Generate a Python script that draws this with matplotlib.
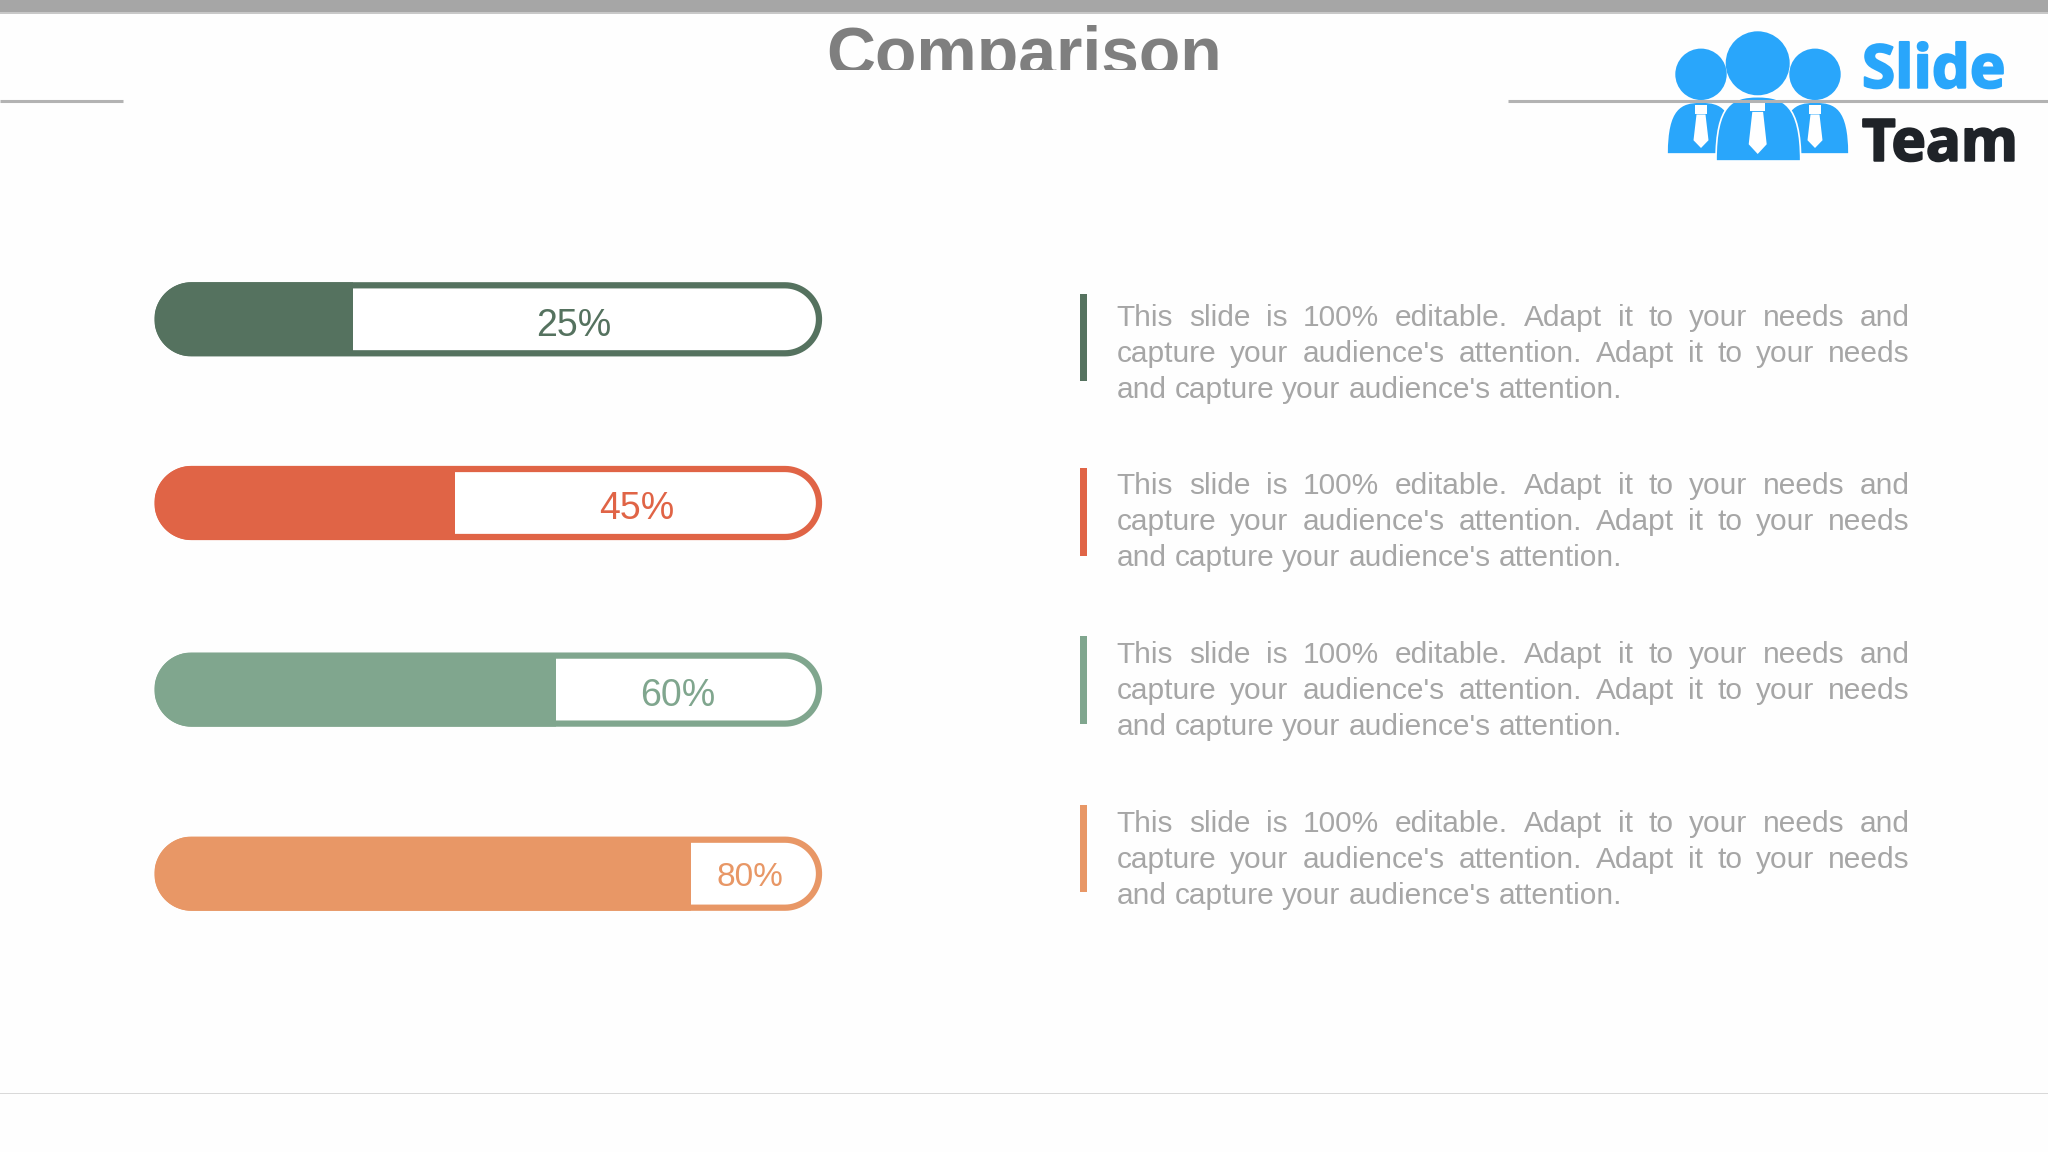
"""Comparison slide: four progress pills with a text block beside each."""
import matplotlib
matplotlib.use("Agg")
import matplotlib.pyplot as plt
import matplotlib.patheffects as pe
import numpy as np
from matplotlib.patches import Circle, PathPatch, Polygon, Rectangle
from matplotlib.path import Path

plt.rcParams["font.family"] = ["Liberation Sans", "DejaVu Sans"]

labels = ["25%", "45%", "60%", "80%"]
# fill length as drawn, in percent of the pill (the 25% pill is drawn longer)
fill_values = [29.7, 45, 60.2, 80.4]
colors = ["#55725f", "#e06446", "#80a68e", "#e89766"]
label_sizes = [27, 27, 27, 24]
blurb_lines = [
    "This slide is 100% editable. Adapt it to your needs and",
    "capture your audience's attention. Adapt it to your needs",
    "and capture your audience's attention.",
]

W, H = 2048, 1152
BAR_X0, BAR_X1 = 154.5, 822
BAR_H = 74
row_y = [319.3, 503, 689.6, 873.7]
label_x = [574, 637, 678, 750]
label_base = [336, 519.3, 706, 886]
block_tops = [293.7, 468, 636, 804.5]
block_baselines = [326, 494.5, 663, 831.5]
GRAY_TEXT = "#a6a6a6"
LOGO_BLUE = "#29a6fb"

fig = plt.figure(figsize=(W / 100, H / 100), dpi=100, facecolor="#fefefe")
page = fig.add_axes([0, 0, 1, 1])
page.set_xlim(0, W); page.set_ylim(H, 0); page.axis("off")

bars = fig.add_axes([BAR_X0 / W, 0, (BAR_X1 - BAR_X0) / W, 1], zorder=2)
bars.set_xlim(0, 100); bars.set_ylim(H, 0); bars.axis("off")
bars.patch.set_alpha(0)

# header
page.add_patch(Rectangle((0, 0), W, 12, color="#a6a6a6", lw=0))
page.add_patch(Rectangle((0, 12), W, 1.5, color="#c8c8c8", lw=0))
title = page.text(1024, 75, "Comparison", ha="center", va="baseline",
                  fontsize=48.9, fontweight="bold", color="#7f7f7f")
title.set_clip_path(Rectangle((0, 0), W, 70, transform=page.transData))
title.set_clip_on(True)
page.add_patch(Rectangle((0, 1092.5), W, 1.5, color="#d9d9d9", lw=0))


def pill_path(x0, x1, yc, h):
    r = h / 2
    t = np.linspace(-np.pi / 2, np.pi / 2, 40)
    right = np.column_stack([x1 - r + r * np.cos(t), yc + r * np.sin(t)])
    left = np.column_stack([x0 + r - r * np.cos(t[::-1] * -1), yc + r * np.sin(t[::-1])])
    return Path(np.vstack([right, left, right[:1]]), closed=True)


# pills
for y, val, col, lab, lx, ly, fs in zip(row_y, fill_values, colors, labels, label_x, label_base, label_sizes):
    page.add_patch(PathPatch(pill_path(BAR_X0 + 3, BAR_X1 - 3, y, BAR_H - 6), fc="white", ec=col, lw=4.5))
    clip = PathPatch(pill_path(BAR_X0, BAR_X1, y, BAR_H), transform=page.transData)
    b = bars.barh(y, val, height=BAR_H, color=col, lw=0)[0]
    b.set_clip_path(clip)
    page.text(lx, ly, lab, ha="center", va="baseline", fontsize=fs, color=col, zorder=4)


def justified(x0, x1, baseline, line, justify=True):
    words = line.split(" ")
    art = [page.text(x0, baseline, w, fontsize=21.5, color=GRAY_TEXT, va="baseline") for w in words]
    rend = fig.canvas.get_renderer()
    widths = [t.get_window_extent(rend).width for t in art]
    space = (x1 - x0 - sum(widths)) / (len(words) - 1) if justify else 8.0
    x = x0
    for t, w in zip(art, widths):
        t.set_x(x)
        x += w + space


# text blocks
for top, base, col in zip(block_tops, block_baselines, colors):
    page.add_patch(Rectangle((1080, top), 7, 87.5, color=col, lw=0))
    for i, line in enumerate(blurb_lines):
        justified(1116.5, 1910, base + 36 * i, line, justify=i < 2)


def person(cx, head_y, head_r, x0, x1, y0, y1, tie_w, tie_y0, tie_y1, z):
    # head + dome shoulders + white tie
    page.add_patch(Circle((cx, head_y), head_r, color=LOGO_BLUE, lw=0, zorder=z))
    w = (x1 - x0) / 2
    verts = [(x0, y1), (x0, y0 + (y1 - y0) * 0.12), (cx - w * 0.6, y0), (cx, y0),
             (cx + w * 0.6, y0), (x1, y0 + (y1 - y0) * 0.12), (x1, y1), (x0, y1)]
    codes = [Path.MOVETO, Path.CURVE4, Path.CURVE4, Path.CURVE4, Path.CURVE4, Path.CURVE4, Path.CURVE4, Path.CLOSEPOLY]
    page.add_patch(PathPatch(Path(verts, codes), fc=LOGO_BLUE, ec="white", lw=1.2, zorder=z))
    h = tie_y1 - tie_y0
    page.add_patch(Rectangle((cx - tie_w * 0.42, tie_y0), tie_w * 0.84, h * 0.2, color="white", lw=0, zorder=z))
    page.add_patch(Polygon([(cx - tie_w * 0.3, tie_y0 + h * 0.22), (cx + tie_w * 0.3, tie_y0 + h * 0.22),
                            (cx + tie_w / 2, tie_y0 + h * 0.82), (cx, tie_y1),
                            (cx - tie_w / 2, tie_y0 + h * 0.82)], color="white", lw=0, zorder=z))


# logo
person(1701, 74.3, 25.7, 1667, 1735, 102, 154, 15, 105, 148, 5)
person(1815, 74.3, 25.7, 1781, 1849, 102, 154, 15, 105, 148, 5)
person(1757.7, 63.3, 32, 1716, 1800.7, 96.7, 161, 18, 100, 154, 6)
page.text(1862, 87.7, "Slide", family="Open Sans", fontweight="bold", fontsize=43.3, color=LOGO_BLUE, zorder=5,
          path_effects=[pe.withStroke(linewidth=1.5, foreground=LOGO_BLUE)])
page.text(1862, 160.7, "Team", family="Open Sans", fontweight="bold", fontsize=41.8, color="#1f2328", zorder=5,
          path_effects=[pe.withStroke(linewidth=1.5, foreground="#1f2328")])

# header rules run over the logo
page.plot([0, 123], [100.7, 100.7], color="#b3b3b3", lw=2.2, solid_capstyle="butt", zorder=7)
page.plot([1508, W], [100.7, 100.7], color="#b3b3b3", lw=2.2, solid_capstyle="butt", zorder=7)

fig.savefig("out.png", dpi=100, facecolor=fig.get_facecolor())
